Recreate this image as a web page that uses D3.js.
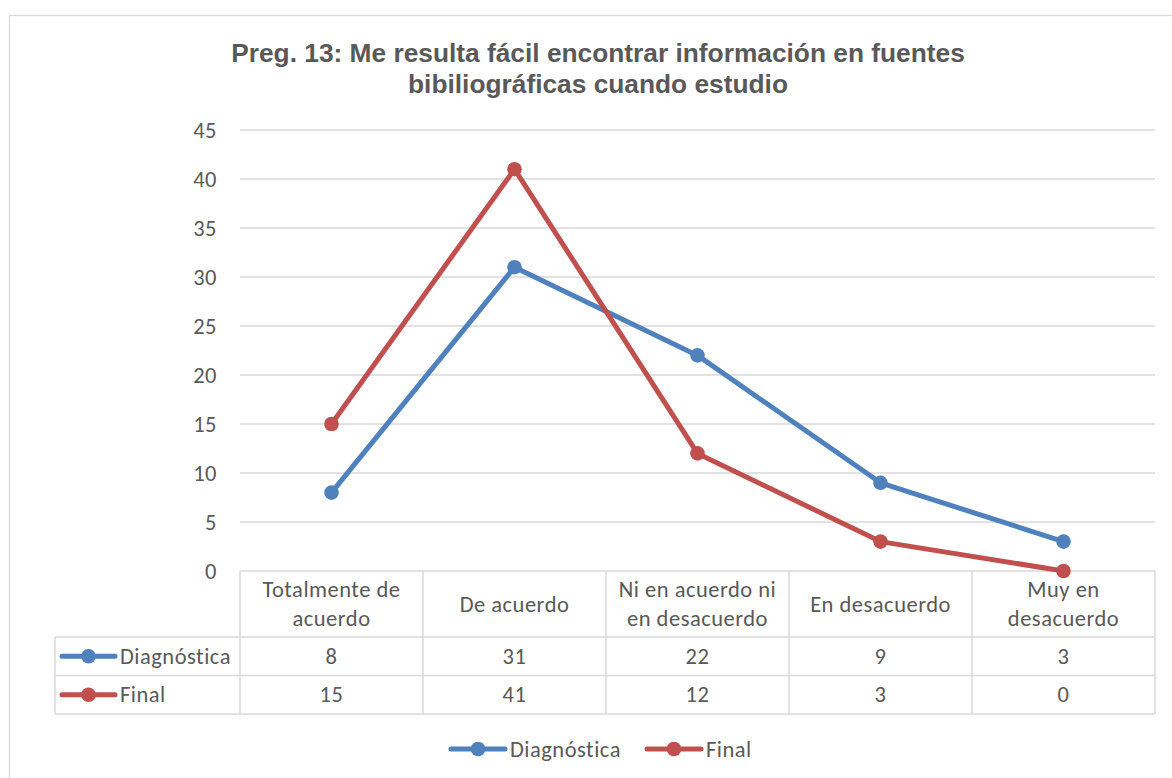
<!DOCTYPE html>
<html>
<head>
<meta charset="utf-8">
<script src="https://cdn.jsdelivr.net/npm/d3@7"></script>
<style>
  body { margin: 0; background: #fff; }
  svg text { font-family: Carlito, "Open Sans", "Noto Sans", sans-serif; fill: #595959; letter-spacing: 0.5px; }
  svg text.title { letter-spacing: 0; }
</style>
</head>
<body>
<div id="chart"></div>
<script>
const categories = [
  ["Totalmente de", "acuerdo"],
  ["De acuerdo"],
  ["Ni en acuerdo ni", "en desacuerdo"],
  ["En desacuerdo"],
  ["Muy en", "desacuerdo"]
];
const diagnostica = [8, 31, 22, 9, 3];
const final = [15, 41, 12, 3, 0];
const yTicks = [0, 5, 10, 15, 20, 25, 30, 35, 40, 45];
const seriesNames = ["Diagnóstica", "Final"];
const colors = ["#4F81BD", "#C0504D"];

const width = 1172, height = 778;
const plot = { left: 240, right: 1155, top: 130, bottom: 571 };
const fs = '22.5px';
const dy = 7.5;
const lineW = 5;
const markR = 7.3;

const svg = d3.select('#chart').append('svg')
  .attr('width', width)
  .attr('height', height);

// chart frame
svg.append('rect')
  .attr('x', 9.5).attr('y', 15.5)
  .attr('width', 1200).attr('height', 800)
  .attr('fill', '#fff').attr('stroke', '#d9d9d9').attr('stroke-width', 1.3);

// title
const titleLines = ['Preg. 13: Me resulta fácil encontrar información en fuentes', 'bibiliográficas cuando estudio'];
titleLines.forEach((t, i) => {
  svg.append('text')
    .attr('class', 'title')
    .attr('x', 598).attr('y', 62 + i * 31)
    .attr('text-anchor', 'middle')
    .style('font-family', 'Arial, "Liberation Sans", sans-serif')
    .style('font-weight', 'bold').style('font-size', '26.3px')
    .text(t);
});

const x = d3.scaleBand()
  .domain(d3.range(categories.length))
  .range([plot.left, plot.right]);
const y = d3.scaleLinear().domain([0, 45]).range([plot.bottom, plot.top]);

// gridlines
svg.append('g').selectAll('line')
  .data(yTicks.filter(d => d > 0))
  .enter().append('line')
  .attr('x1', plot.left).attr('x2', plot.right)
  .attr('y1', d => y(d)).attr('y2', d => y(d))
  .style('stroke', '#d9d9d9').style('stroke-width', 1.3);

// y axis labels
svg.append('g').selectAll('text')
  .data(yTicks)
  .enter().append('text')
  .attr('x', 217)
  .attr('y', d => y(d) + dy)
  .attr('text-anchor', 'end')
  .style('font-size', fs)
  .text(d => d);

// data table
const rowTops = [571, 637, 675.5, 714];
const gridColor = '#d9d9d9';
const table = svg.append('g');
table.append('line').attr('x1', plot.left).attr('x2', plot.right).attr('y1', rowTops[0]).attr('y2', rowTops[0])
  .style('stroke', gridColor).style('stroke-width', 1.5);
rowTops.slice(1).forEach(t => {
  table.append('line').attr('x1', 55).attr('x2', plot.right).attr('y1', t).attr('y2', t)
    .style('stroke', gridColor).style('stroke-width', 1.5);
});
table.append('line').attr('x1', 55).attr('x2', 55).attr('y1', rowTops[1]).attr('y2', rowTops[3])
  .style('stroke', gridColor).style('stroke-width', 1.5);
d3.range(categories.length + 1).forEach(i => {
  const xx = plot.left + i * x.bandwidth();
  table.append('line').attr('x1', xx).attr('x2', xx).attr('y1', rowTops[0]).attr('y2', rowTops[3])
    .style('stroke', gridColor).style('stroke-width', 1.5);
});

// category labels
categories.forEach((lines, i) => {
  const cx = x(i) + x.bandwidth() / 2;
  const mid = (rowTops[0] + rowTops[1]) / 2;
  const lh = 28.5;
  lines.forEach((ln, j) => {
    table.append('text')
      .attr('x', cx)
      .attr('y', mid + (j - (lines.length - 1) / 2) * lh + dy)
      .attr('text-anchor', 'middle')
      .style('font-size', fs)
      .text(ln);
  });
});

// values rows
[diagnostica, final].forEach((vals, r) => {
  const mid = (rowTops[r + 1] + rowTops[r + 2]) / 2;
  vals.forEach((v, i) => {
    table.append('text')
      .attr('x', x(i) + x.bandwidth() / 2)
      .attr('y', mid + dy)
      .attr('text-anchor', 'middle')
      .style('font-size', fs)
      .text(v);
  });
  const key = table.append('g');
  key.append('line').attr('x1', 62).attr('x2', 115).attr('y1', mid).attr('y2', mid)
    .style('stroke', colors[r]).style('stroke-width', lineW).style('stroke-linecap', 'round');
  key.append('circle').attr('cx', 88.5).attr('cy', mid).attr('r', markR).style('fill', colors[r]);
  key.append('text').attr('x', 120).attr('y', mid + dy)
    .style('font-size', fs).text(seriesNames[r]);
});

// lines
const line = d3.line()
  .x((d, i) => x(i) + x.bandwidth() / 2)
  .y(d => y(d));

[diagnostica, final].forEach((vals, r) => {
  svg.append('path')
    .datum(vals)
    .attr('d', line)
    .style('fill', 'none')
    .style('stroke', colors[r])
    .style('stroke-width', lineW)
    .style('stroke-linejoin', 'round');
  svg.append('g').selectAll('circle')
    .data(vals)
    .enter().append('circle')
    .attr('cx', (d, i) => x(i) + x.bandwidth() / 2)
    .attr('cy', d => y(d))
    .attr('r', markR)
    .style('fill', colors[r]);
});

// bottom legend
const legendY = 749;
const legendX = [451, 647];
seriesNames.forEach((name, r) => {
  const lx = legendX[r];
  svg.append('line').attr('x1', lx).attr('x2', lx + 54).attr('y1', legendY).attr('y2', legendY)
    .style('stroke', colors[r]).style('stroke-width', lineW).style('stroke-linecap', 'round');
  svg.append('circle').attr('cx', lx + 27).attr('cy', legendY).attr('r', markR).style('fill', colors[r]);
  svg.append('text').attr('x', lx + 59).attr('y', legendY + dy)
    .style('font-size', fs).text(name);
});
</script>
</body>
</html>
